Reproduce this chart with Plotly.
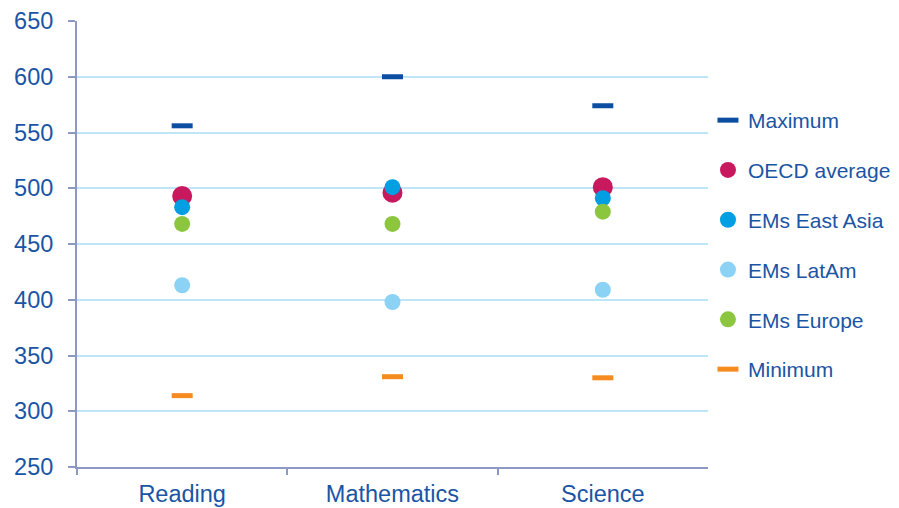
import plotly.graph_objects as go

categorias = ['Reading', 'Mathematics', 'Science']

maximo = [556, 600, 574]
media_ocde = [493, 496, 501]
ems_asia = [483, 501, 491]
ems_latam = [413, 398, 409]
ems_europa = [468, 468, 479]
minimo = [314, 331, 330]

AZUL_TEXTO = '#1A55A5'
EJE = '#8E98C4'
REJILLA = '#BFE6F7'

SERIES = [
    ('Maximum', maximo, '#0B4EA2', 'line-ew', 15),
    ('OECD average', media_ocde, '#C8185E', 'circle', 20),
    ('EMs East Asia', ems_asia, '#009EE2', 'circle', 16),
    ('EMs LatAm', ems_latam, '#8CD2F4', 'circle', 16),
    ('EMs Europe', ems_europa, '#8CC63F', 'circle', 16),
    ('Minimum', minimo, '#F68B1F', 'line-ew', 15),
]

fig = go.Figure()
for nombre, valores, color, simbolo, tam in SERIES:
    if simbolo == 'line-ew':
        marcador = dict(symbol=simbolo, size=tam,
                        line=dict(color=color, width=5))
    else:
        marcador = dict(symbol=simbolo, size=tam, color=color,
                        line=dict(width=0))
    fig.add_trace(go.Scatter(
        name=nombre,
        x=categorias,
        y=valores,
        mode='markers',
        marker=marcador,
        legendgroup=nombre,
        cliponaxis=False,
    ))

# la página añade 8 px de margen al body: la figura ocupa 891x500
fig.update_layout(
    width=891,
    height=500,
    plot_bgcolor='white',
    paper_bgcolor='white',
    margin=dict(l=69, r=191, t=13, b=41),
    font=dict(family='Liberation Sans, Arial, sans-serif', size=22,
              color=AZUL_TEXTO),
    xaxis=dict(
        type='category',
        range=[-0.5, 2.5],
        automargin=False,
        showgrid=False,
        showline=True,
        linecolor=EJE,
        linewidth=2,
        ticks='outside',
        tickson='boundaries',
        ticklen=6,
        tickwidth=1.5,
        tickcolor=EJE,
        ticklabelstandoff=5,
        tickfont=dict(size=23.5, color=AZUL_TEXTO),
    ),
    yaxis=dict(
        range=[250, 650],
        dtick=50,
        automargin=False,
        showgrid=True,
        gridcolor=REJILLA,
        gridwidth=1.5,
        showline=True,
        linecolor=EJE,
        linewidth=2,
        ticks='outside',
        ticklen=7,
        tickwidth=1.5,
        tickcolor=EJE,
        zeroline=False,
        ticklabelstandoff=10,
        tickfont=dict(size=23.5, color=AZUL_TEXTO),
    ),
    legend=dict(
        xref='container',
        yref='container',
        x=0.7856,
        xanchor='left',
        y=0.816,
        yanchor='top',
        maxheight=400,
        traceorder='grouped',
        tracegroupgap=19.5,
        font=dict(size=21, color=AZUL_TEXTO),
        itemwidth=30,
        bgcolor='rgba(0,0,0,0)',
    ),
    showlegend=True,
)

fig.write_html('out.html')
